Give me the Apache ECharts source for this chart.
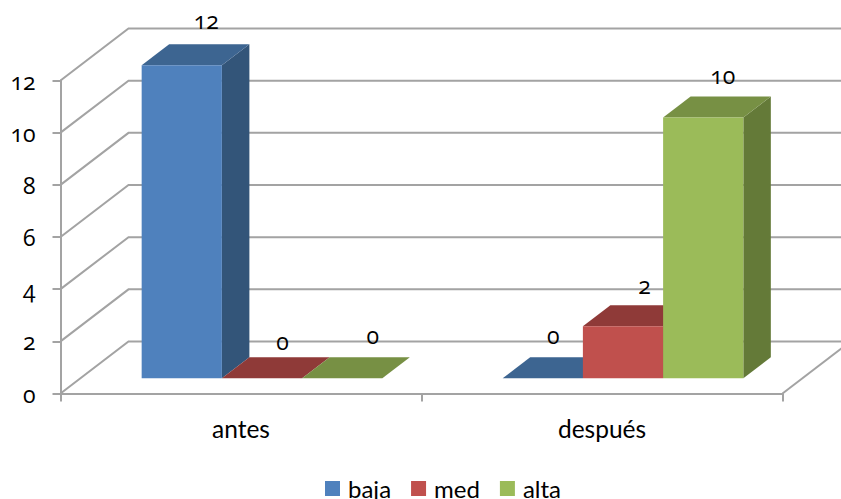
<!DOCTYPE html>
<html>
<head>
<meta charset="utf-8">
<style>
  html, body { margin: 0; padding: 0; background: #fff; }
  #chart { width: 841px; height: 499px; }
  /* old-style figures for the numeric labels */
  #chart text { font-feature-settings: "onum" 1, "lnum" 0; }
</style>
<script src="https://cdn.jsdelivr.net/npm/echarts@6/dist/echarts.min.js"></script>
</head>
<body>
<div id="chart"></div>
<script>
const categories = ['antes', 'después'];
const baja = [12, 0];
const med = [0, 2];
const alta = [0, 10];
const yTicks = [0, 2, 4, 6, 8, 10, 12];

// Extrusion of the plot box and of the bars into the page
const wallDepth = { x: 68, y: -52 };
const barInset = { x: 21, y: -15.2 };
const barDepth = { x: 27.5, y: -21 };
const barsPerBand = 4.5;

// Hand placement of each value label relative to the bar's top-back centre
const labelNudge = {
  baja: [[-3, -24], [-17, -22]],
  med: [[-7, -16], [-6, -20]],
  alta: [[3, -22], [-8, -21]]
};

const palette = {
  baja: { front: '#4f81bd', top: '#3d6591', side: '#335579' },
  med: { front: '#c0504d', top: '#8f3a38', side: '#7c3230' },
  alta: { front: '#9bbb59', top: '#779044', side: '#647a38' }
};
const lineColor = '#a3a3a3';
const digitFont = '"Open Sans"';
const textFont = 'Lato';

function poly(points, fill) {
  return { type: 'polygon', shape: { points }, style: { fill, stroke: null } };
}

function barRenderer(name, slot) {
  return function (params, api) {
    const cat = api.value(0);
    const val = api.value(1);
    const top = api.coord([cat, val]);
    const base = api.coord([cat, 0]);
    const w = api.size([1, 0])[0] / barsPerBand;
    const x0 = top[0] + barInset.x + (slot - 1.5) * w;
    const x1 = x0 + w;
    const yT = top[1] + barInset.y;
    const yB = base[1] + barInset.y;
    const dx = barDepth.x;
    const dy = barDepth.y;
    const c = palette[name];
    const nudge = labelNudge[name][cat];
    const children = [
      poly([[x1, yT], [x1 + dx, yT + dy], [x1 + dx, yB + dy], [x1, yB]], c.side),
      poly([[x0, yT], [x0 + dx, yT + dy], [x1 + dx, yT + dy], [x1, yT]], c.top)
    ];
    if (val > 0) {
      children.push({ type: 'rect', shape: { x: x0, y: yT, width: w, height: yB - yT }, style: { fill: c.front } });
    }
    children.push({
      type: 'text',
      z2: 10,
      style: {
        x: (x0 + x1) / 2 + dx + nudge[0],
        y: yT + dy + nudge[1],
        text: String(val),
        align: 'center',
        verticalAlign: 'middle',
        fill: '#000',
        fontFamily: digitFont,
        fontSize: 23
      }
    });
    return { type: 'group', children };
  };
}

function wallRenderer(params, api) {
  const sys = params.coordSys;
  const val = api.value(0);
  const y = api.coord([0, val])[1];
  const x0 = sys.x;
  const x1 = sys.x + sys.width;
  const children = [{
    type: 'polyline',
    shape: { points: [[x0, y], [x0 + wallDepth.x, y + wallDepth.y], [x1 + wallDepth.x, y + wallDepth.y]] },
    style: { stroke: lineColor, lineWidth: 2, fill: null }
  }];
  if (val === 0) {
    children.push({
      type: 'line',
      shape: { x1: x1, y1: y, x2: x1 + wallDepth.x, y2: y + wallDepth.y },
      style: { stroke: lineColor, lineWidth: 2 }
    });
  }
  return { type: 'group', children };
}

function barSeries(name, values, slot) {
  return {
    name,
    type: 'custom',
    coordinateSystem: 'cartesian2d',
    clip: false,
    z: 3 + slot,
    itemStyle: { color: palette[name].front },
    renderItem: barRenderer(name, slot),
    encode: { x: 0, y: 1 },
    data: values.map((v, i) => [i, v])
  };
}

const chart = echarts.init(document.getElementById('chart'), null, { renderer: 'svg' });
chart.setOption({
  animation: false,
  backgroundColor: '#fff',
  grid: { left: 60.5, right: 58.5, top: 80.5, height: 313 },
  legend: {
    data: ['baja', 'med', 'alta'],
    left: 325,
    top: 476.5,
    padding: 0,
    icon: 'rect',
    itemWidth: 15,
    itemHeight: 15,
    itemGap: 20,
    itemStyle: { borderWidth: 0 },
    textStyle: { fontFamily: textFont, fontSize: 24, lineHeight: 22, color: '#000', padding: [0, 0, 0, 3] }
  },
  xAxis: {
    type: 'category',
    data: categories,
    axisLine: { lineStyle: { color: lineColor, width: 2 } },
    axisTick: { show: true, length: 8, lineStyle: { color: lineColor, width: 2 } },
    axisLabel: { margin: 22, fontFamily: textFont, fontSize: 24.5, color: '#000' }
  },
  yAxis: {
    type: 'value',
    min: 0,
    max: 12,
    interval: 2,
    splitLine: { show: false },
    axisLine: { show: true, lineStyle: { color: lineColor, width: 2 } },
    axisTick: { show: true, length: 8, lineStyle: { color: lineColor, width: 2 } },
    axisLabel: { margin: 25, fontFamily: digitFont, fontSize: 23, color: '#000' }
  },
  series: [
    {
      name: 'walls',
      type: 'custom',
      coordinateSystem: 'cartesian2d',
      clip: false,
      z: 1,
      silent: true,
      renderItem: wallRenderer,
      encode: { y: 0 },
      data: yTicks.map(v => [v])
    },
    barSeries('baja', baja, 0),
    barSeries('med', med, 1),
    barSeries('alta', alta, 2)
  ]
});
</script>
</body>
</html>
